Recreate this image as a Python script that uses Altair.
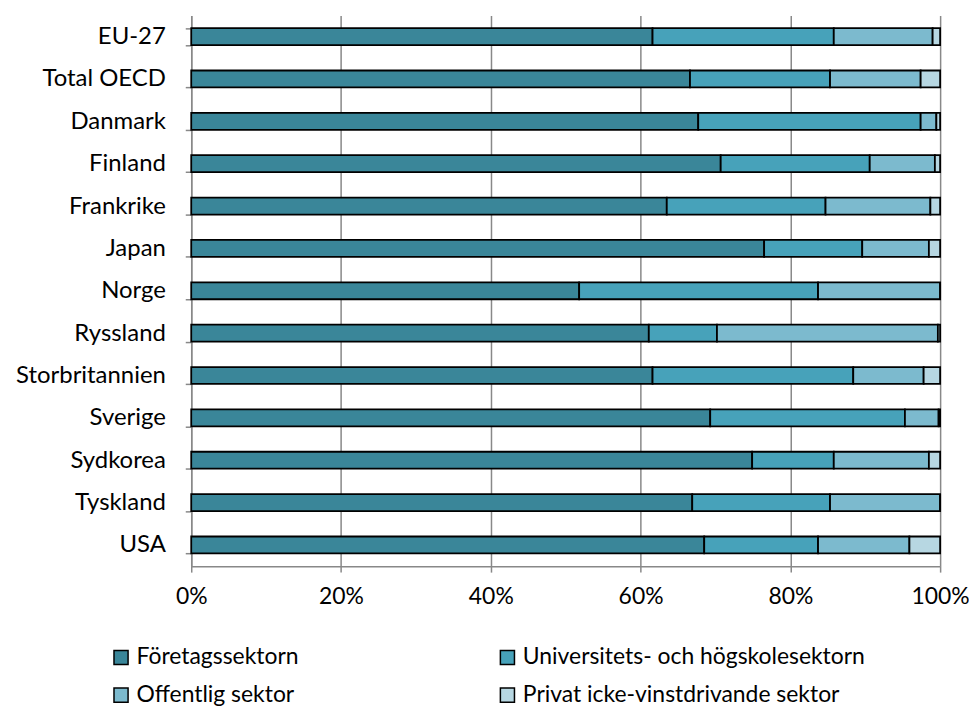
import altair as alt
import pandas as pd

countries = ["EU-27", "Total OECD", "Danmark", "Finland", "Frankrike", "Japan", "Norge",
             "Ryssland", "Storbritannien", "Sverige", "Sydkorea", "Tyskland", "USA"]
sectors = ["Företagssektorn", "Universitets- och högskolesektorn", "Offentlig sektor",
           "Privat icke-vinstdrivande sektor"]
foretag = [61.6, 66.6, 67.7, 70.7, 63.5, 76.5, 51.8, 61.1, 61.6, 69.3, 74.9, 66.9, 68.5]
univ = [24.2, 18.7, 29.7, 19.9, 21.2, 13.1, 31.9, 9.1, 26.8, 26.0, 10.9, 18.4, 15.2]
offentlig = [13.2, 12.1, 2.1, 8.7, 14.0, 8.9, 16.3, 29.5, 9.4, 4.5, 12.7, 14.7, 12.2]
privat = [1.0, 2.6, 0.5, 0.7, 1.3, 1.5, 0.0, 0.3, 2.2, 0.2, 1.5, 0.0, 4.1]
colors = ["#3A8699", "#47A2BA", "#7CBACE", "#B7D7E2"]

rows = []
for i, c in enumerate(countries):
    for j, (s, vals) in enumerate(zip(sectors, [foretag, univ, offentlig, privat])):
        rows.append({"land": c, "sektor": s, "andel": vals[i] / 100.0, "ord": j})
df = pd.DataFrame(rows)

FONT = "Lato"
FS = 24

chart = alt.Chart(df).mark_bar(stroke="black", strokeWidth=1.8).encode(
    y=alt.Y("land:N", sort=countries, title=None,
            scale=alt.Scale(paddingInner=0.6, paddingOuter=0.3),
            axis=alt.Axis(tickBand="extent", grid=False, domainColor="#888888",
                          domainWidth=1.5, tickColor="#888888", tickWidth=1.5,
                          tickSize=6, labelPadding=20, labelFontSize=FS,
                          labelFont=FONT, labelColor="black")),
    x=alt.X("andel:Q", stack="zero", title=None,
            scale=alt.Scale(domain=[0, 1], nice=False),
            axis=alt.Axis(values=[0, 0.2, 0.4, 0.6, 0.8, 1.0], format=".0%",
                          grid=True, gridColor="#888888", gridWidth=1.5,
                          domainColor="#888888", domainWidth=1.5,
                          tickColor="#888888", tickWidth=1.5, tickSize=6,
                          labelPadding=14, labelFontSize=23, labelFont=FONT,
                          labelColor="black", labelFlush=False)),
    color=alt.Color("sektor:N", sort=sectors,
                    scale=alt.Scale(domain=sectors, range=colors),
                    legend=alt.Legend(title=None, orient="none", direction="horizontal",
                                      legendX=-82, legendY=633, columns=2,
                                      columnPadding=198, rowPadding=14,
                                      symbolType="square",
                                      symbolSize=200, symbolStrokeColor="black",
                                      symbolStrokeWidth=1.5, labelFontSize=23,
                                      labelFont=FONT, labelColor="black",
                                      symbolOpacity=1, labelLimit=450)),
    order=alt.Order("ord:Q"),
).properties(
    width=752, height=553,
    padding={"left": 184, "top": 6, "right": 29, "bottom": 142},
    autosize=alt.AutoSizeParams(type="none"),
).configure_view(stroke=None)

chart.save("out.html", embed_options={"renderer": "svg", "actions": False})
